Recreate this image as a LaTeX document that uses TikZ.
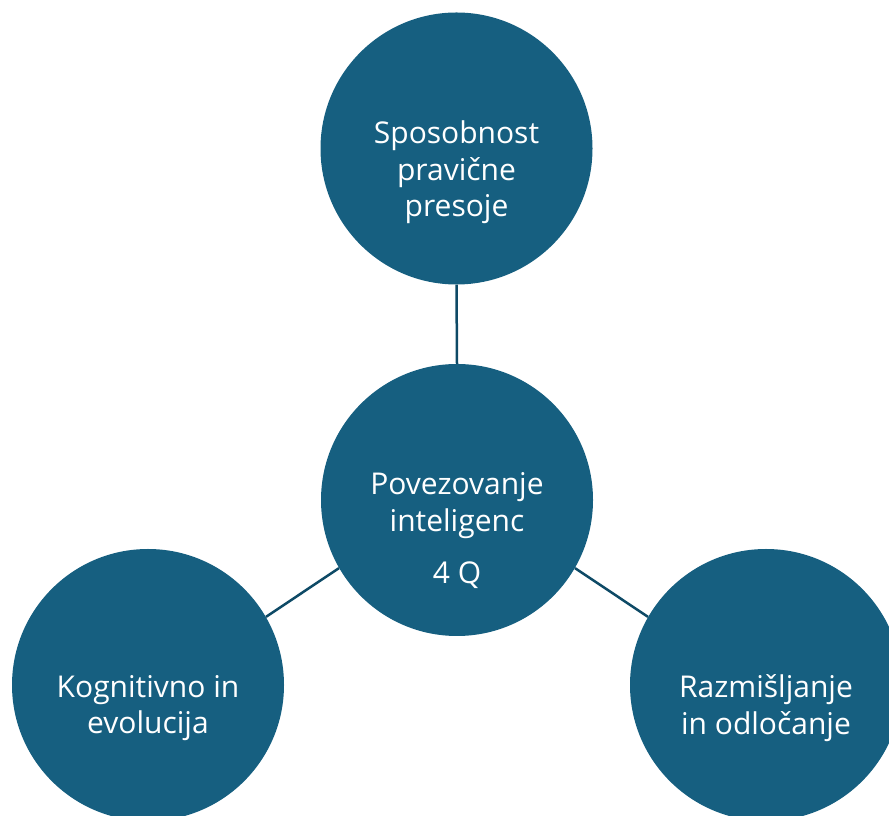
\documentclass[tikz,border=0pt]{standalone}
\usepackage{fontspec}
\setmainfont{Open Sans}
\definecolor{circfill}{HTML}{165F80}
\definecolor{linecol}{HTML}{0E4A66}
\tikzset{
  bubble/.style={circle, fill=circfill, draw=none, minimum size=272pt, inner sep=0pt},
  label text/.style={text=white, align=center, font=\fontsize{30}{36.5}\selectfont, inner sep=0pt},
  conn/.style={draw=linecol, line width=2.5pt}
}
\begin{document}
\begin{tikzpicture}[x=1pt,y=1pt]
\useasboundingbox (0,0) rectangle (889,816);
\node[bubble] (top) at (456.5,667.5) {};
\node[bubble] (mid) at (457,316) {};
\node[bubble] (left) at (148,131) {};
\node[bubble] (right) at (766,131) {};
\path[conn] (top.south) -- (mid.north);
\path[conn] (mid.210) -- (left.30);
\path[conn] (mid.330) -- (right.150);
\node[label text] (toptext) at ([yshift=-24pt]top.center) {Sposobnost\\pravične\\presoje};
\node[label text] (midtext) at ([yshift=-31pt]mid.center) {Povezovanje\\inteligenc\\[16pt]4 Q};
\node[label text] (lefttext) at ([yshift=-23pt]left.center) {Kognitivno in\\evolucija};
\node[label text] (righttext) at ([yshift=-23pt]right.center) {Razmišljanje\\in odločanje};
\end{tikzpicture}
\end{document}
